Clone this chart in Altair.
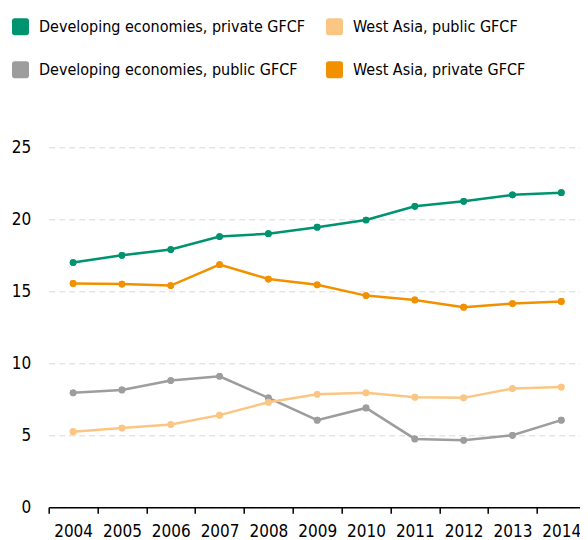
import altair as alt
import pandas as pd

years = [str(y) for y in range(2004, 2015)]
# legend fills column by column: first column, then second
series = [
    "Developing economies, private GFCF",
    "Developing economies, public GFCF",
    "West Asia, public GFCF",
    "West Asia, private GFCF",
]
colors = ["#00936f", "#9d9d9d", "#fbc683", "#f29100"]

dev_private = [17.0, 17.5, 17.9, 18.8, 19.0, 19.45, 19.95, 20.9, 21.25, 21.7, 21.85]
dev_public = [7.95, 8.15, 8.8, 9.1, 7.6, 6.05, 6.9, 4.75, 4.65, 5.0, 6.05]
wa_public = [5.25, 5.5, 5.75, 6.4, 7.3, 7.85, 7.95, 7.65, 7.6, 8.25, 8.35]
wa_private = [15.55, 15.5, 15.4, 16.85, 15.85, 15.45, 14.7, 14.4, 13.9, 14.15, 14.3]

values = [dev_private, dev_public, wa_public, wa_private]
rows = []
for s, vals in zip(series, values):
    for y, v in zip(years, vals):
        rows.append({"year": y, "value": v, "series": s})
df = pd.DataFrame(rows)

FONT = "Liberation Sans Narrow, DejaVu Sans Condensed, sans-serif"

rounded_square = (
    "M -0.7 -1 L 0.7 -1 A 0.3 0.3 0 0 1 1 -0.7 L 1 0.7 A 0.3 0.3 0 0 1 0.7 1 "
    "L -0.7 1 A 0.3 0.3 0 0 1 -1 0.7 L -1 -0.7 A 0.3 0.3 0 0 1 -0.7 -1 Z"
)

x = alt.X(
    "year:N",
    title=None,
    scale=alt.Scale(paddingInner=0, paddingOuter=0),
    axis=alt.Axis(
        tickBand="extent",
        labelAngle=0,
        domainColor="#000000",
        domainWidth=1.5,
        tickColor="#000000",
        tickWidth=1.5,
        tickSize=6,
        labelPadding=10,
        labelFontSize=17,
        labelColor="#000000",
        labelFont=FONT,
        grid=False,
    ),
)
y = alt.Y(
    "value:Q",
    title=None,
    scale=alt.Scale(domain=[0, 25]),
    axis=alt.Axis(
        values=[0, 5, 10, 15, 20, 25],
        domain=False,
        ticks=False,
        labelPadding=18,
        labelFontSize=17,
        labelColor="#000000",
        labelFont=FONT,
        grid=True,
        gridColor="#d9d9d9",
        gridDash=[6, 4],
        gridWidth=1,
    ),
)

legend = alt.Legend(
    title=None,
    orient="none",
    legendX=-36.7,
    legendY=-129,
    columns=2,
    columnPadding=19,
    rowPadding=25,
    symbolType=rounded_square,
    symbolSize=289,
    symbolOpacity=1,
    symbolStrokeWidth=0,
    labelFontSize=16,
    labelFont=FONT,
    labelColor="#000000",
    labelOffset=10,
    labelLimit=400,
    padding=0,
)
color = alt.Color(
    "series:N", scale=alt.Scale(domain=series, range=colors), sort=series, legend=legend
)

points = alt.Chart(df).mark_point(filled=True, size=45, opacity=1).encode(
    x=x, y=y, color=color
)
lines = alt.Chart(df).mark_line(strokeWidth=2.5).encode(
    x=x, y=y, color=color, detail="series:N"
)

chart = (
    alt.layer(points, lines, points)
    .properties(
        width=537,
        height=360,
        autosize=alt.AutoSizeParams(type="none"),
        padding={"left": 40.7, "top": 139.3, "right": -5.7, "bottom": 36},
    )
    .configure_view(stroke=None)
)

chart.save("out.html", embed_options={"renderer": "svg", "actions": False})
